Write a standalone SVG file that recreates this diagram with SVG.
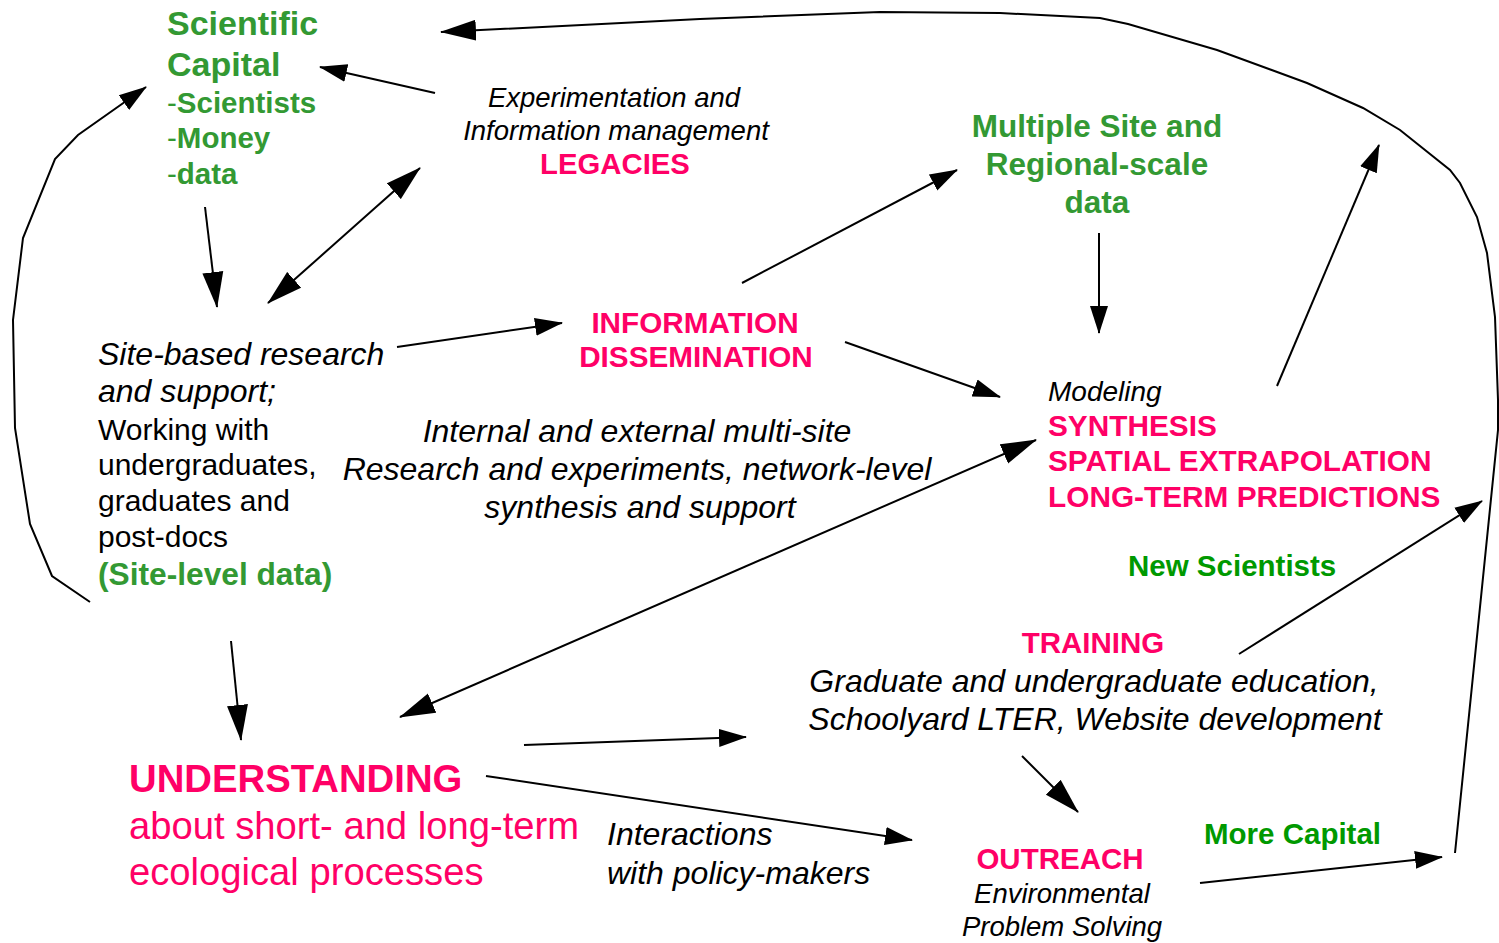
<svg xmlns="http://www.w3.org/2000/svg" width="1499" height="943" viewBox="0 0 1499 943">
<style>
text{font-family:"Liberation Sans",Arial,sans-serif}
.g{fill:#339933;font-weight:bold}
.g2{fill:#009900;font-weight:bold}
.p{fill:#FF0066;font-weight:bold}
.pr{fill:#FF0066}
.i{fill:#000;font-style:italic}
.k{fill:#000}
.c{text-anchor:middle}
.ln{fill:none;stroke:#000;stroke-width:2}
</style>
<defs>
<marker id="big" markerUnits="userSpaceOnUse" markerWidth="36" markerHeight="22" viewBox="0 0 36 22" refX="35" refY="11" orient="auto-start-reverse"><path d="M0,0.5 L36,11 L0,21.5 z" fill="#000"/></marker>
<marker id="med" markerUnits="userSpaceOnUse" markerWidth="28" markerHeight="20" viewBox="0 0 28 20" refX="27" refY="10" orient="auto-start-reverse"><path d="M0,1 L28,10 L0,19 z" fill="#000"/></marker>
</defs>
<rect width="1499" height="943" fill="#fff"/>
<g id="connectors">
<path class="ln" d="M1455,853 L1498,430 L1498,400 L1495,317 L1487,253 L1477,217 L1460,183 L1450,170 L1400,130 L1363,108 L1307,83 L1217,50 L1128,24 L1100,18 L1000,13 L880,12 L700,19 L441,32" marker-end="url(#big)"/>
<path class="ln" d="M90,602 L52,576 L30,524 L15,428 L13,320 L23,238 L55,159 L78,135 L146,87" marker-end="url(#med)"/>
<line class="ln" x1="435" y1="93" x2="320" y2="67" marker-end="url(#med)"/>
<line class="ln" x1="205" y1="207" x2="217" y2="307" marker-end="url(#big)"/>
<line class="ln" x1="268" y1="303" x2="420" y2="168" marker-start="url(#big)" marker-end="url(#big)"/>
<line class="ln" x1="397" y1="347" x2="562" y2="323" marker-end="url(#med)"/>
<line class="ln" x1="742" y1="283" x2="957" y2="170" marker-end="url(#med)"/>
<line class="ln" x1="845" y1="342" x2="1000" y2="397" marker-end="url(#med)"/>
<line class="ln" x1="1099" y1="233" x2="1099" y2="333" marker-end="url(#med)"/>
<line class="ln" x1="1277" y1="386" x2="1379" y2="145" marker-end="url(#med)"/>
<line class="ln" x1="400" y1="717" x2="1036" y2="440" marker-start="url(#big)" marker-end="url(#big)"/>
<line class="ln" x1="231" y1="641" x2="241" y2="740" marker-end="url(#big)"/>
<line class="ln" x1="524" y1="745" x2="746" y2="737" marker-end="url(#med)"/>
<line class="ln" x1="486" y1="776" x2="912" y2="840" marker-end="url(#med)"/>
<line class="ln" x1="1239" y1="654" x2="1482" y2="501" marker-end="url(#med)"/>
<line class="ln" x1="1022" y1="756" x2="1078" y2="812" marker-end="url(#big)"/>
<line class="ln" x1="1200" y1="883" x2="1442" y2="857" marker-end="url(#med)"/>
</g>
<g id="scientific-capital">
<text class="g" x="167" y="35" font-size="34">Scientific</text>
<text class="g" x="167" y="76" font-size="34">Capital</text>
<text class="g" x="167" y="113" font-size="29.5"><tspan font-weight="normal">-</tspan>Scientists</text>
<text class="g" x="167" y="148" font-size="29.5"><tspan font-weight="normal">-</tspan>Money</text>
<text class="g" x="167" y="184" font-size="29.5"><tspan font-weight="normal">-</tspan>data</text>
</g>
<g id="legacies">
<text class="i c" x="614" y="107" font-size="27.5">Experimentation and</text>
<text class="i c" x="616" y="140" font-size="27.5">Information management</text>
<text class="p c" x="615" y="174" font-size="29.3">LEGACIES</text>
</g>
<g id="multiple-site">
<text class="g c" x="1097" y="137" font-size="31.5">Multiple Site and</text>
<text class="g c" x="1097" y="175" font-size="31.5">Regional-scale</text>
<text class="g c" x="1097" y="213" font-size="31.5">data</text>
</g>
<g id="site-based">
<text class="i" x="98" y="365" font-size="32">Site-based research</text>
<text class="i" x="98" y="402" font-size="32">and support;</text>
<text class="k" x="98" y="440" font-size="30">Working with</text>
<text class="k" x="98" y="475" font-size="30">undergraduates,</text>
<text class="k" x="98" y="511" font-size="30">graduates and</text>
<text class="k" x="98" y="547" font-size="30">post-docs</text>
<text class="g" x="98" y="585" font-size="31.7">(Site-level data)</text>
</g>
<g id="information-dissemination">
<text class="p c" x="695" y="333" font-size="29.7">INFORMATION</text>
<text class="p c" x="696" y="367" font-size="29.7">DISSEMINATION</text>
</g>
<g id="multi-site-research">
<text class="i c" x="637" y="442" font-size="32">Internal and external multi-site</text>
<text class="i c" x="637" y="480" font-size="32">Research and experiments, network-level</text>
<text class="i c" x="640" y="518" font-size="32">synthesis and support</text>
</g>
<g id="synthesis">
<text class="i" x="1048" y="401" font-size="28">Modeling</text>
<text class="p" x="1048" y="436" font-size="29.8">SYNTHESIS</text>
<text class="p" x="1048" y="471" font-size="29.8">SPATIAL EXTRAPOLATION</text>
<text class="p" x="1048" y="507" font-size="29.8">LONG-TERM PREDICTIONS</text>
</g>
<g id="new-scientists">
<text class="g2" x="1128" y="576" font-size="29.5">New Scientists</text>
</g>
<g id="training">
<text class="p c" x="1093" y="653" font-size="29.5">TRAINING</text>
<text class="i c" x="1094" y="692" font-size="32">Graduate and undergraduate education,</text>
<text class="i c" x="1095" y="730" font-size="32">Schoolyard LTER, Website development</text>
</g>
<g id="understanding">
<text class="p" x="129" y="792" font-size="38.3">UNDERSTANDING</text>
<text class="pr" x="129" y="839" font-size="38.2">about short- and long-term</text>
<text class="pr" x="129" y="885" font-size="38.2">ecological processes</text>
</g>
<g id="policy">
<text class="i" x="607" y="845" font-size="32">Interactions</text>
<text class="i" x="607" y="884" font-size="32">with policy-makers</text>
</g>
<g id="outreach">
<text class="p c" x="1060" y="869" font-size="29.5">OUTREACH</text>
<text class="i c" x="1062" y="903" font-size="27.5">Environmental</text>
<text class="i c" x="1062" y="936" font-size="27.5">Problem Solving</text>
</g>
<g id="more-capital">
<text class="g2" x="1204" y="844" font-size="29.5">More Capital</text>
</g>
</svg>
